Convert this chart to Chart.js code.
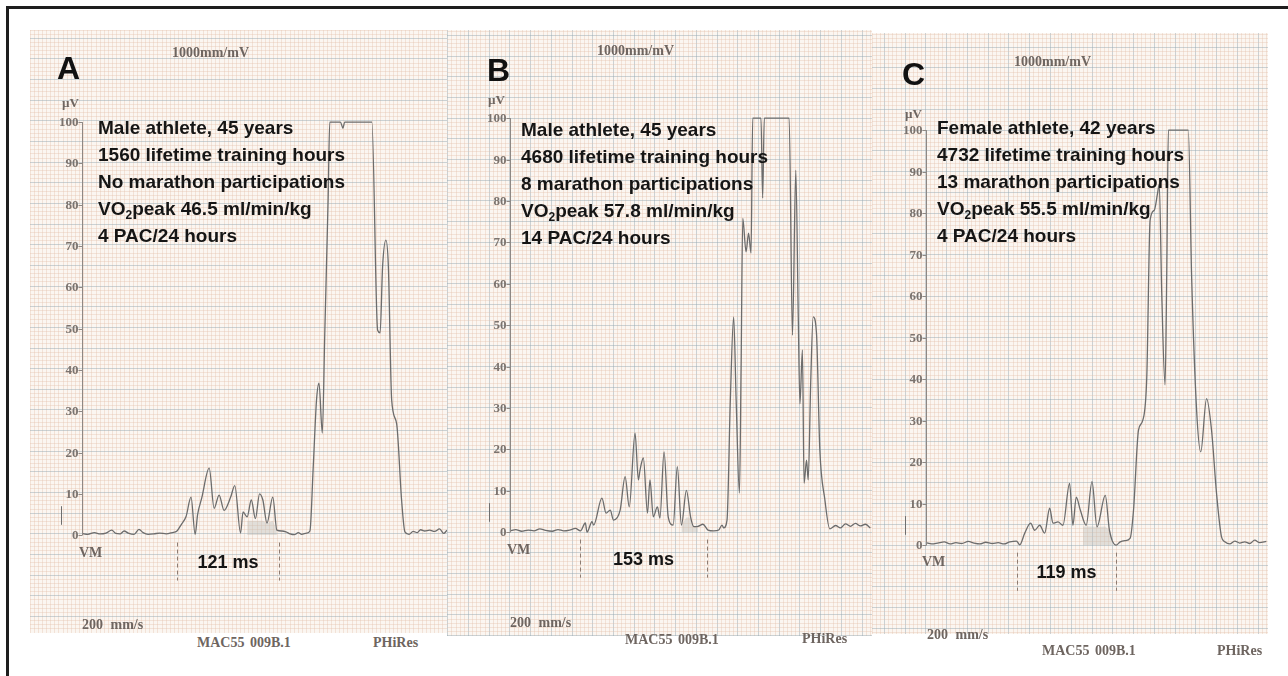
<!DOCTYPE html>
<html lang="en">
<head>
<meta charset="UTF-8">
<title>Signal-averaged ECG, three athletes</title>
<script src="https://cdn.jsdelivr.net/npm/chart.js@4/dist/chart.umd.min.js"></script>
<style>
  body { margin: 0; background: #fff; width: 1288px; height: 676px; position: relative; overflow: hidden; }
  .frame-top { position: absolute; left: 6px; top: 6px; width: 1282px; height: 3px; background: #1e1e1e; }
  .frame-left { position: absolute; left: 6px; top: 6px; width: 3px; height: 670px; background: #1e1e1e; }
  canvas.panel { position: absolute; }
  .lbl { position: absolute; white-space: nowrap; transform: translateY(-50%); line-height: 1; }
  .letter { font: bold 32px "Liberation Sans", Arial, sans-serif; color: #111; }
  .serif { font: bold 14px "Liberation Serif", "Times New Roman", serif; color: #6e6560; }
  .small { font-size: 13px; }
  .info { position: absolute; font: bold 19px "Liberation Sans", Arial, sans-serif; color: #151515; white-space: nowrap; }
  .info div { height: 27px; line-height: 27px; }
  .info sub { font-size: 12px; vertical-align: -4px; line-height: 0; }
</style>
</head>
<body>
<div class="frame-top"></div>
<div class="frame-left"></div>

<canvas id="ecgA" class="panel"></canvas>
<canvas id="ecgB" class="panel"></canvas>
<canvas id="ecgC" class="panel"></canvas>

<!-- panel A text -->
<div class="lbl letter" style="left:57px; top:68px">A</div>
<div class="lbl serif" style="left:172px; top:53px">1000mm/mV</div>
<div class="lbl serif small" style="left:62px; top:103px">µV</div>
<div class="info" style="left:98px; top:114px">
  <div>Male athlete, 45 years</div>
  <div>1560 lifetime training hours</div>
  <div>No marathon participations</div>
  <div>VO<sub>2</sub>peak 46.5 ml/min/kg</div>
  <div>4 PAC/24 hours</div>
</div>
<div class="lbl serif" style="left:79px; top:553px">VM</div>
<div class="lbl serif" style="left:82px; top:625px; word-spacing:4px">200 mm/s</div>
<div class="lbl serif" style="left:197px; top:643px; word-spacing:2px">MAC55 009B.1</div>
<div class="lbl serif" style="left:373px; top:643px">PHiRes</div>

<!-- panel B text -->
<div class="lbl letter" style="left:487px; top:70px">B</div>
<div class="lbl serif" style="left:597px; top:51px">1000mm/mV</div>
<div class="lbl serif small" style="left:488px; top:100px">µV</div>
<div class="info" style="left:521px; top:116px">
  <div>Male athlete, 45 years</div>
  <div>4680 lifetime training hours</div>
  <div>8 marathon participations</div>
  <div>VO<sub>2</sub>peak 57.8 ml/min/kg</div>
  <div>14 PAC/24 hours</div>
</div>
<div class="lbl serif" style="left:507px; top:550px">VM</div>
<div class="lbl serif" style="left:510px; top:623px; word-spacing:4px">200 mm/s</div>
<div class="lbl serif" style="left:625px; top:640px; word-spacing:2px">MAC55 009B.1</div>
<div class="lbl serif" style="left:802px; top:639px">PHiRes</div>

<!-- panel C text -->
<div class="lbl letter" style="left:902px; top:74px">C</div>
<div class="lbl serif" style="left:1014px; top:62px">1000mm/mV</div>
<div class="lbl serif small" style="left:905px; top:114px">µV</div>
<div class="info" style="left:937px; top:114px">
  <div>Female athlete, 42 years</div>
  <div>4732 lifetime training hours</div>
  <div>13 marathon participations</div>
  <div>VO<sub>2</sub>peak 55.5 ml/min/kg</div>
  <div>4 PAC/24 hours</div>
</div>
<div class="lbl serif" style="left:922px; top:562px">VM</div>
<div class="lbl serif" style="left:927px; top:635px; word-spacing:4px">200 mm/s</div>
<div class="lbl serif" style="left:1042px; top:651px; word-spacing:2px">MAC55 009B.1</div>
<div class="lbl serif" style="left:1217px; top:651px">PHiRes</div>

<script>
// vector magnitude traces, time in ms from the axis, amplitude in µV (clipped at 100)
const yTicks = [0, 10, 20, 30, 40, 50, 60, 70, 80, 90, 100];

const aTime = [0, 7, 15, 22, 29, 36, 41, 46, 51, 56, 63, 69, 74, 80, 87, 94, 102, 109, 115, 120,
  126, 132, 137, 140, 145, 154, 160, 166, 172, 180, 185, 192, 195, 200, 205, 210, 215, 219, 224, 231,
  236, 242, 247, 252, 257, 262, 266, 272, 276, 280, 284, 287, 291, 294, 298, 300, 313, 316, 318, 351,
  358, 361, 364, 368, 371, 375, 381, 387, 391, 396, 401, 406, 410, 415, 421, 427, 433, 438, 442];
const aVolt = [0.4, 0.2, 0.6, 0.3, 0.5, 1.2, 0.4, 0.3, 1.0, 0.5, 0.2, 1.4, 0.6, 0.2, 0.3, 0.5, 0.3, 0.6, 1.0, 2.5,
  4.5, 9.2, 0.2, 5.0, 9.0, 16.2, 6.5, 9.7, 6.0, 9.2, 12.0, 0.5, 5.6, 4.4, 8.5, 4.0, 10.0, 8.5, 2.9, 9.2,
  1.2, 1.0, 0.8, 0.3, 0.1, 0.6, 0.2, 0.5, 1.0, 16.5, 32.7, 36.8, 24.7, 49.0, 81.0, 100, 100, 98.5, 100, 100,
  49.6, 49.0, 65.0, 71.4, 65.0, 32.7, 27.0, 8.5, 0.8, 0.2, 0.9, 0.6, 1.3, 1.0, 1.2, 0.9, 1.5, 0.4, 1.2];

const bTime = [0, 7, 14, 22, 29, 36, 43, 51, 58, 65, 72, 79, 85, 91, 93, 99, 101, 111, 116, 121,
  125, 133, 139, 144, 151, 155, 157, 161, 166, 169, 173, 178, 181, 186, 191, 197, 202, 207, 213, 218,
  222, 227, 233, 239, 246, 252, 256, 258, 262, 266, 270, 273, 277, 279, 281, 285, 288, 291, 293, 303,
  305, 307, 337, 341, 345, 348, 350, 353, 355, 358, 360, 363, 366, 370, 374, 380, 386, 393, 399, 405,
  411, 417, 423, 429, 435];
const bVolt = [0.3, 0.6, 0.2, 0.5, 0.3, 0.8, 0.4, 0.2, 0.6, 0.3, 0.5, 0.9, 0.3, 2.2, 0.0, 2.5, 1.7, 8.2, 4.6, 5.3,
  2.9, 5.3, 13.4, 6.1, 23.9, 12.6, 15.0, 17.9, 4.6, 12.6, 3.7, 6.1, 3.4, 19.4, 3.7, 1.7, 15.8, 1.7, 10.1, 3.7,
  1.3, 1.4, 1.9, 0.5, 0.3, 0.5, 1.7, 1.0, 2.9, 31.9, 52.0, 32.0, 9.4, 40.0, 75.8, 67.7, 72.2, 67.4, 100, 100,
  80.7, 100, 100, 47.6, 87.4, 52.0, 31.0, 44.0, 11.8, 17.4, 12.6, 36.0, 52.0, 48.0, 20.0, 8.0, 0.8, 1.6, 1.0, 2.0,
  1.4, 2.1, 1.5, 1.9, 1.0];

const cTime = [0, 7, 14, 22, 29, 36, 43, 51, 58, 65, 72, 80, 87, 94, 101, 109, 113, 119, 126, 131,
  137, 143, 149, 153, 159, 165, 173, 177, 181, 186, 193, 200, 206, 216, 221, 229, 234, 240, 246, 250,
  256, 261, 266, 270, 275, 279, 281, 284, 288, 290, 292, 316, 320, 326, 331, 338, 344, 350, 356, 360,
  366, 372, 378, 384, 390, 396, 402, 410];
const cVolt = [0.6, 0.3, 0.5, 0.8, 0.3, 0.6, 0.4, 0.9, 0.5, 0.3, 0.7, 0.4, 0.6, 0.3, 0.8, 1.0, 0.1, 2.9, 5.3, 3.6,
  4.8, 2.9, 8.9, 5.3, 5.6, 4.8, 14.9, 4.8, 11.6, 8.4, 4.8, 15.3, 4.4, 12.0, 3.6, 0.0, 0.8, 1.1, 1.7, 8.4,
  27.7, 30.0, 40.6, 78.3, 80.7, 84.8, 87.0, 60.7, 38.6, 64.7, 100, 100, 64.7, 32.5, 22.5, 35.3, 27.7, 12.5, 2.0, 0.8,
  0.3, 1.0, 0.5, 0.8, 0.4, 1.2, 0.6, 0.9];

// filtered QRS onset / offset (ms) and duration labels
const qrsOn = [115, 84.5, 109.6];
const qrsOff = [238.5, 238, 229];
const qrsLabel = ['121 ms', '153 ms', '119 ms'];
// low-amplitude terminal part (shaded)
const lasFrom = [200, 207, 189];
const lasTo = [236, 227, 224];
const lasCap = [3.5, 3.5, 4.5];

// where each strip sits on the page and what part of the paper it shows
const panels = [
  { id: 'ecgA', left: 30, top: 30, w: 417, h: 603, xMin: -63, xMax: 442, yMin: -23.7, yMax: 122.3, time: aTime, volt: aVolt },
  { id: 'ecgB', left: 447, top: 30, w: 425, h: 606, xMin: -76, xMax: 437, yMin: -25.1, yMax: 121.3, time: bTime, volt: bVolt },
  { id: 'ecgC', left: 872, top: 33, w: 396, h: 601, xMin: -65, xMax: 412, yMin: -21.4, yMax: 123.4, time: cTime, volt: cVolt }
];

const minorLine = 'rgba(228,192,170,0.36)';
const majorLine = 'rgba(150,170,178,0.48)';

function gridColor(step) {
  return ctx => (ctx.tick && Math.round(ctx.tick.value) % step === 0) ? majorLine : minorLine;
}

function shadePoints(time, volt, from, to, cap) {
  const pts = [];
  const at = t => {
    for (let i = 1; i < time.length; i++) {
      if (time[i] >= t) {
        const f = (t - time[i - 1]) / (time[i] - time[i - 1]);
        return volt[i - 1] + f * (volt[i] - volt[i - 1]);
      }
    }
    return volt[volt.length - 1];
  };
  pts.push({ x: from, y: Math.min(at(from), cap) });
  time.forEach((t, i) => { if (t > from && t < to) pts.push({ x: t, y: Math.min(volt[i], cap) }); });
  pts.push({ x: to, y: Math.min(at(to), cap) });
  return pts;
}

const ecgDecor = {
  id: 'ecgDecor',
  beforeDraw(chart) {
    const { ctx, chartArea: a } = chart;
    ctx.save();
    ctx.fillStyle = '#fbf6f1';
    ctx.fillRect(a.left, a.top, a.width, a.height);
    ctx.restore();
  },
  afterDraw(chart) {
    const k = chart.options.plugins.ecgDecor.index;
    const { ctx } = chart;
    const x = chart.scales.x, y = chart.scales.y;
    const x0 = Math.round(x.getPixelForValue(0)) + 0.5;
    ctx.save();
    // amplitude axis
    ctx.strokeStyle = '#8e8884';
    ctx.lineWidth = 1;
    ctx.beginPath();
    ctx.moveTo(x0, y.getPixelForValue(0));
    ctx.lineTo(x0, y.getPixelForValue(100));
    ctx.stroke();
    ctx.font = 'bold 13px "Liberation Serif", serif';
    ctx.fillStyle = '#7b736e';
    ctx.textAlign = 'right';
    ctx.textBaseline = 'middle';
    yTicks.forEach(v => {
      const py = Math.round(y.getPixelForValue(v)) + 0.5;
      ctx.beginPath();
      ctx.moveTo(x0 - 4, py);
      ctx.lineTo(x0, py);
      ctx.stroke();
      ctx.fillText(String(v), x0 - 4, py);
    });
    // calibration mark
    const cx = Math.round(x.getPixelForValue(-25)) + 0.5;
    ctx.strokeStyle = '#6e6e6e';
    ctx.beginPath();
    ctx.moveTo(cx, y.getPixelForValue(2.5));
    ctx.lineTo(cx, y.getPixelForValue(7));
    ctx.stroke();
    // QRS limits
    ctx.setLineDash([4, 3]);
    ctx.strokeStyle = '#8d7c72';
    [qrsOn[k], qrsOff[k]].forEach(t => {
      const px = Math.round(x.getPixelForValue(t)) + 0.5;
      ctx.beginPath();
      ctx.moveTo(px, y.getPixelForValue(-1.8));
      ctx.lineTo(px, y.getPixelForValue(-11));
      ctx.stroke();
    });
    ctx.setLineDash([]);
    ctx.font = 'bold 18px "Liberation Sans", Arial, sans-serif';
    ctx.fillStyle = '#151515';
    ctx.textAlign = 'center';
    ctx.fillText(qrsLabel[k], x.getPixelForValue((qrsOn[k] + qrsOff[k]) / 2), y.getPixelForValue(-6.8));
    ctx.restore();
  }
};

panels.forEach((p, k) => {
  const cv = document.getElementById(p.id);
  cv.width = p.w;
  cv.height = p.h;
  cv.style.left = p.left + 'px';
  cv.style.top = p.top + 'px';
  new Chart(cv, {
    type: 'line',
    data: {
      datasets: [
        {
          data: p.time.map((t, i) => ({ x: t, y: p.volt[i] })),
          borderColor: '#6c6c6c',
          borderWidth: 1.3,
          pointRadius: 0,
          cubicInterpolationMode: 'monotone',
          fill: false
        },
        {
          data: shadePoints(p.time, p.volt, lasFrom[k], lasTo[k], lasCap[k]),
          borderWidth: 0,
          pointRadius: 0,
          backgroundColor: 'rgba(185,183,180,0.38)',
          fill: 'origin'
        }
      ]
    },
    options: {
      responsive: false,
      animation: false,
      devicePixelRatio: 1,
      events: [],
      layout: { padding: 0 },
      plugins: { legend: { display: false }, tooltip: { enabled: false }, ecgDecor: { index: k } },
      scales: {
        x: {
          type: 'linear', min: p.xMin, max: p.xMax,
          border: { display: false },
          ticks: { display: false, stepSize: 5, maxTicksLimit: 1000, includeBounds: false },
          grid: { drawTicks: false, color: gridColor(25), lineWidth: 1 }
        },
        y: {
          type: 'linear', min: p.yMin, max: p.yMax,
          border: { display: false },
          ticks: { display: false, stepSize: 1, maxTicksLimit: 1000, includeBounds: false },
          grid: { drawTicks: false, color: gridColor(5), lineWidth: 1 }
        }
      }
    },
    plugins: [ecgDecor]
  });
});
</script>
</body>
</html>
